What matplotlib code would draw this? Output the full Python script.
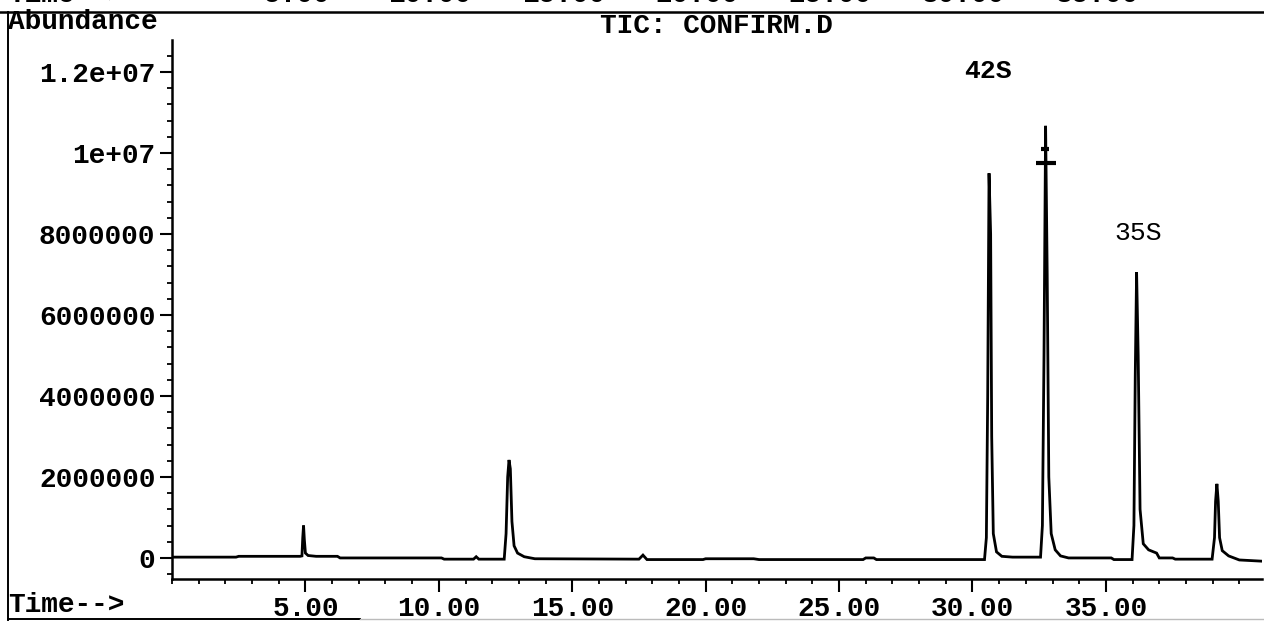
import matplotlib.pyplot as plt
import numpy as np
from matplotlib.ticker import MultipleLocator, FixedLocator
from matplotlib import transforms

# TIC trace, abundance in millions (read peak by peak)
time_min = [0.0, 2.4, 2.5, 4.80, 4.87, 4.90, 4.93, 4.96, 5.00, 5.10, 5.40,
            6.20, 6.30, 10.1, 10.2, 11.3, 11.4, 11.5, 12.45, 12.52, 12.58,
            12.63, 12.68, 12.74, 12.82, 12.95, 13.2, 13.6, 17.5, 17.65, 17.8,
            19.9, 20.0, 21.8, 22.0, 25.9, 26.0, 26.3, 26.4, 30.45, 30.52,
            30.57, 30.62, 30.68, 30.72, 30.78, 30.90, 31.1, 31.5, 32.55,
            32.62, 32.68, 32.74, 32.80, 32.86, 32.95, 33.1, 33.3, 33.6, 35.2,
            35.3, 35.98, 36.05, 36.10, 36.15, 36.21, 36.28, 36.40, 36.60,
            36.90, 37.0, 37.5, 37.6, 38.98, 39.07, 39.11, 39.16, 39.21, 39.26,
            39.36, 39.60, 40.0, 40.85]
abund_m = [0.02, 0.02, 0.04, 0.04, 0.05, 0.50, 0.80, 0.45, 0.12, 0.06, 0.04,
           0.04, 0.0, 0.0, -0.03, -0.03, 0.03, -0.03, -0.03, 0.60, 2.00,
           2.42, 2.20, 0.90, 0.30, 0.12, 0.03, -0.02, -0.03, 0.07, -0.04,
           -0.04, -0.02, -0.02, -0.04, -0.04, 0.0, 0.0, -0.04, -0.04, 0.50,
           4.00, 9.50, 8.00, 3.00, 0.60, 0.15, 0.04, 0.02, 0.02, 0.80, 5.00,
           10.67, 7.00, 2.00, 0.60, 0.20, 0.05, 0.0, 0.0, -0.04, -0.04, 0.80,
           4.50, 7.06, 5.00, 1.20, 0.35, 0.20, 0.12, 0.0, 0.0, -0.03, -0.03,
           0.50, 1.40, 1.83, 1.40, 0.50, 0.18, 0.05, -0.05, -0.08]

# integration marks on the 32.75 min peak
mark_times = [32.75, 32.73]
mark_levels_m = [9.75, 10.1]
mark_sizes = [14, 6]

peak_names = ['42S', '35S']
peak_label_times = [30.57, 36.2]
peak_label_levels_m = [12.02, 8.02]
peak_label_weights = ['bold', 'normal']

y_ticks = [0, 2e6, 4e6, 6e6, 8e6, 1e7, 1.2e7]
y_ticklabels = ['0', '2000000', '4000000', '6000000', '8000000', '1e+07', '1.2e+07']
x_ticks = [5, 10, 15, 20, 25, 30, 35]
x_ticklabels = ['5.00', '10.00', '15.00', '20.00', '25.00', '30.00', '35.00']

mono = 'Liberation Mono'
fs = 20

W, H = 1264, 623
fig = plt.figure(figsize=(W / 100, H / 100), dpi=100)
ax = fig.add_axes([172 / W, (H - 579) / H, 1090 / W, 539 / H])

t = np.array(time_min)
a = np.array(abund_m) * 1e6
ax.plot(t, a, color='black', lw=2.0, solid_joinstyle='miter')

for mt, ml, ms in zip(mark_times, mark_levels_m, mark_sizes):
    ax.plot([mt], [ml * 1e6], marker='_', ms=ms, mew=3, color='black')

for name, pt, pl, w in zip(peak_names, peak_label_times, peak_label_levels_m,
                           peak_label_weights):
    ax.text(pt, pl * 1e6, name, ha='center', va='center', family=mono,
            fontsize=fs - 1, fontweight=w, clip_on=False)

ax.set_xlim(0, 40.85)
ax.set_ylim(-0.52e6, 12.79e6)

ax.spines['top'].set_visible(False)
ax.spines['right'].set_visible(False)
for s in ['left', 'bottom']:
    ax.spines[s].set_linewidth(1.8)

ax.yaxis.set_major_locator(FixedLocator(y_ticks))
ax.set_yticklabels(y_ticklabels)
ax.yaxis.set_minor_locator(MultipleLocator(4e5))
ax.set_xticks(x_ticks)
ax.set_xticklabels(x_ticklabels)
ax.xaxis.set_minor_locator(MultipleLocator(1))

ax.tick_params(which='major', direction='out', length=9, width=1.5,
               labelsize=fs, pad=3)
ax.tick_params(which='minor', direction='out', length=3.6, width=1.3)
for lab in ax.get_xticklabels() + ax.get_yticklabels():
    lab.set_family(mono)
    lab.set_fontweight('bold')

# page frame and text around the plot
fig.text(716 / W, 1 - 26 / H, 'TIC: CONFIRM.D', ha='center', va='center',
         family=mono, fontsize=fs, fontweight='bold')
fig.text(8 / W, 1 - 22 / H, 'Abundance', ha='left', va='center',
         family=mono, fontsize=fs, fontweight='bold')
fig.text(8 / W, 1 - 605 / H, 'Time-->', ha='left', va='center',
         family=mono, fontsize=fs, fontweight='bold')

fig.add_artist(plt.Line2D([0, 1], [1 - 12 / H, 1 - 12 / H], color='black', lw=1.8))
fig.add_artist(plt.Line2D([8 / W, 8 / W], [1 - 12 / H, 1 - 620 / H], color='black', lw=1.4))
fig.add_artist(plt.Line2D([8 / W, 360 / W], [1 - 619 / H, 1 - 619 / H], color='black', lw=1.4))
fig.add_artist(plt.Line2D([360 / W, 1], [1 - 619 / H, 1 - 619 / H], color='#bbbbbb', lw=1.0))

# time scale of the panel above, cut off by the page edge
head = transforms.blended_transform_factory(ax.transData, fig.transFigure)
head = transforms.offset_copy(head, fig=fig, x=-9, y=0, units='dots')
for xt, xl in zip(x_ticks, x_ticklabels):
    ax.text(xt, 1 - 8 / H, xl, transform=head, ha='center', va='bottom',
            family=mono, fontsize=fs, fontweight='bold', clip_on=False)
fig.text(8 / W, 1 - 8 / H, 'Time-->', ha='left', va='bottom',
         family=mono, fontsize=fs, fontweight='bold')

fig.savefig('out.png', dpi=100)
